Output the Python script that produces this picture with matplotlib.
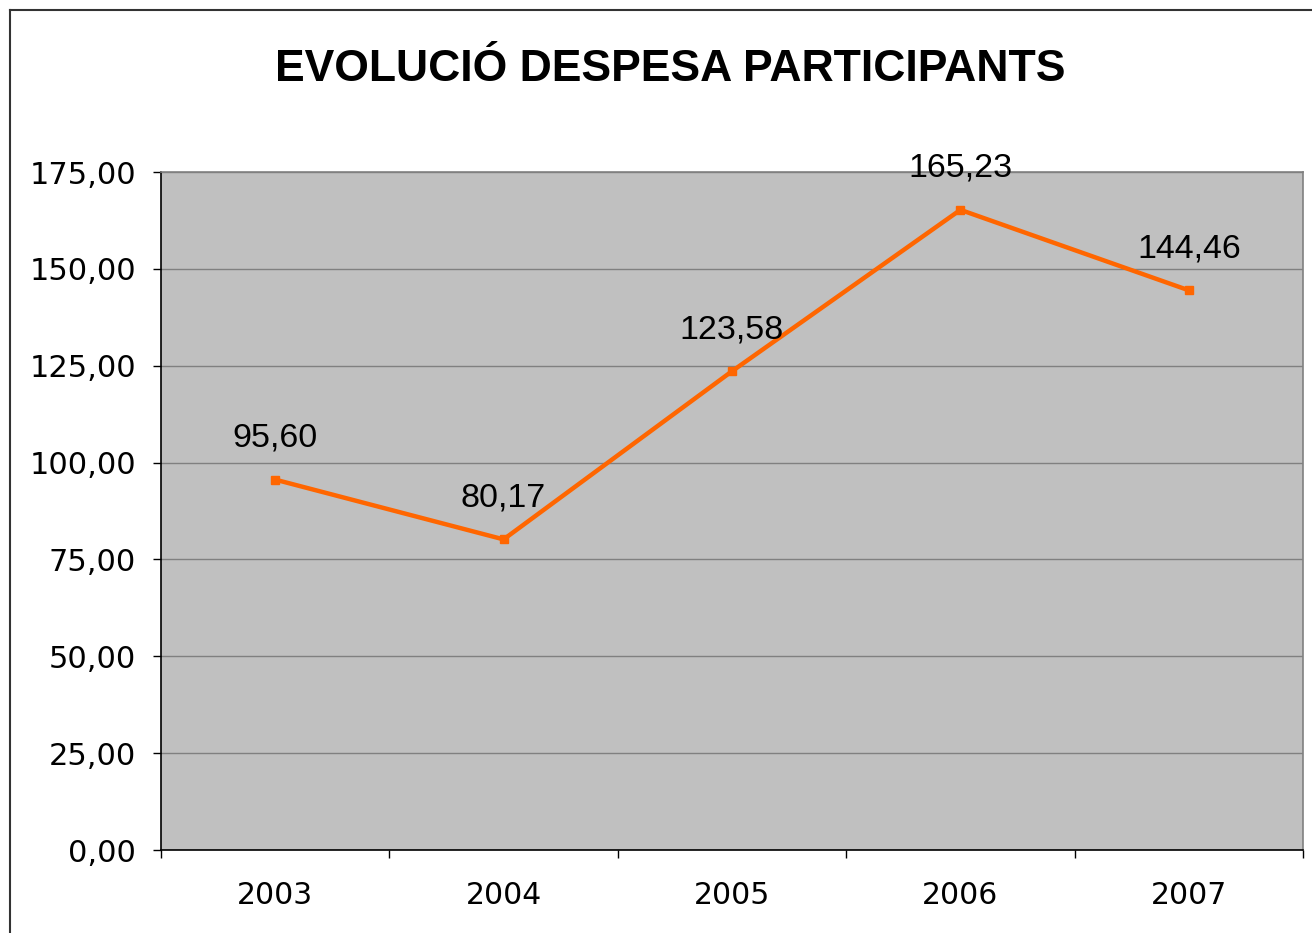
import matplotlib.pyplot as plt
from matplotlib.lines import Line2D
from matplotlib.ticker import FixedLocator, FuncFormatter

years = ["2003", "2004", "2005", "2006", "2007"]
despesa = [95.60, 80.17, 123.58, 165.23, 144.46]
y_ticks = [0, 25, 50, 75, 100, 125, 150, 175]

fig = plt.figure(figsize=(13.12, 9.33), dpi=100)
ax = fig.add_axes([161 / 1312, 83 / 933, 1142 / 1312, 678 / 933])

ax.set_facecolor("#C0C0C0")
x = list(range(len(years)))
ax.plot(x, despesa, color="#FF6600", lw=3.2, marker="s", ms=6, zorder=3)

for xi, v in zip(x, despesa):
    lbl = f"{v:.2f}".replace(".", ",")
    ax.annotate(lbl, (xi, v), xytext=(0, 30), textcoords="offset points",
                ha="center", va="center", fontsize=24.5, family="Liberation Sans",
                color="black", zorder=4, annotation_clip=False)

ax.set_xlim(-0.5, len(years) - 0.5)
ax.set_ylim(0, 175)
ax.set_yticks(y_ticks)
ax.yaxis.set_major_formatter(FuncFormatter(lambda v, p: f"{v:.2f}".replace(".", ",")))
ax.yaxis.grid(True, color="#808080", lw=1)
ax.set_axisbelow(True)

ax.set_xticks(x)
ax.set_xticklabels(years)
ax.xaxis.set_minor_locator(FixedLocator([i - 0.5 for i in range(len(years) + 1)]))
ax.tick_params(axis="x", which="major", length=0, pad=22, labelsize=21.5)
ax.tick_params(axis="x", which="minor", length=6, width=1, direction="out")
ax.tick_params(axis="y", length=6, width=1, direction="out", pad=12, labelsize=22)

ax.spines["top"].set_color("#808080")
ax.spines["right"].set_color("#808080")
ax.spines["left"].set_color("black")
ax.spines["bottom"].set_color("black")
for s in ax.spines.values():
    s.set_linewidth(1.2)

fig.text(0.511, 0.926, "EVOLUCIÓ DESPESA PARTICIPANTS", ha="center", va="center",
         fontsize=32, fontweight="bold", family="Liberation Sans")

# outer frame of the chart area
fig.add_artist(Line2D([10 / 1312, 10 / 1312], [0, 1 - 10 / 933], color="#333333", lw=1.5,
                      transform=fig.transFigure))
fig.add_artist(Line2D([10 / 1312, 1], [1 - 10 / 933, 1 - 10 / 933], color="#333333", lw=1.5,
                      transform=fig.transFigure))

fig.savefig("out.png", dpi=100)
